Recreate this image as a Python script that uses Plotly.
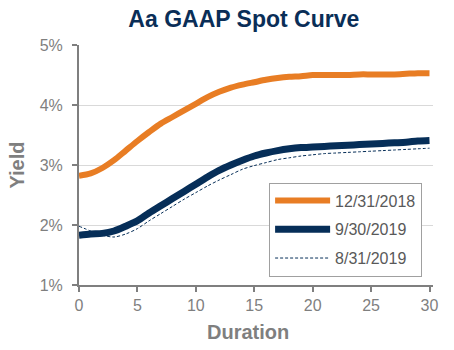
import plotly.graph_objects as go

duration = list(range(0, 31))
dec_2018 = [2.82, 2.86, 2.95, 3.08, 3.24, 3.40, 3.55, 3.69, 3.80, 3.91, 4.02, 4.13, 4.22, 4.29, 4.34, 4.38,
            4.42, 4.45, 4.47, 4.48, 4.50, 4.50, 4.50, 4.50, 4.51, 4.51, 4.51, 4.51, 4.52, 4.53, 4.53]
sep_2019 = [1.83, 1.85, 1.86, 1.90, 1.98, 2.07, 2.20, 2.32, 2.44, 2.56, 2.68, 2.80, 2.91, 3.00, 3.08, 3.15,
            3.20, 3.24, 3.27, 3.29, 3.30, 3.31, 3.32, 3.33, 3.34, 3.35, 3.36, 3.37, 3.38, 3.40, 3.41]
aug_2019 = [1.98, 1.90, 1.83, 1.80, 1.85, 1.94, 2.07, 2.19, 2.31, 2.43, 2.54, 2.65, 2.75, 2.84, 2.93, 2.99,
            3.04, 3.09, 3.12, 3.15, 3.17, 3.19, 3.20, 3.21, 3.22, 3.23, 3.24, 3.25, 3.26, 3.27, 3.28]
names = ["12/31/2018", "9/30/2019", "8/31/2019"]
x_ticks = [0, 5, 10, 15, 20, 25, 30]
y_ticks = [1, 2, 3, 4, 5]
y_labels = ["1%", "2%", "3%", "4%", "5%"]

ORANGE = "#E87D24"
NAVY = "#062E58"
GREY = "#7F7F7F"

fig = go.Figure()
fig.add_trace(go.Scatter(x=duration, y=dec_2018, mode="lines", name=names[0], legendgroup="a",
                         line=dict(color=ORANGE, width=6, shape="spline", smoothing=0.8)))
fig.add_trace(go.Scatter(x=duration, y=sep_2019, mode="lines", name=names[1], legendgroup="b",
                         line=dict(color=NAVY, width=7, shape="spline", smoothing=0.8)))
fig.add_trace(go.Scatter(x=duration, y=aug_2019, mode="lines", name=names[2], legendgroup="c",
                         line=dict(color=NAVY, width=1, dash="3px,2px", shape="spline", smoothing=0.8)))

fig.update_layout(
    width=454, height=350,
    margin=dict(l=79, r=21, t=45, b=65, autoexpand=False),
    paper_bgcolor="white", plot_bgcolor="white",
    font=dict(family="Liberation Sans, Arial, sans-serif", color=GREY),
    title=dict(text="<b>Aa GAAP Spot Curve</b>", x=0.537, xanchor="center", y=0.945, yanchor="middle",
               font=dict(size=23, color="#0A2E57")),
    xaxis=dict(range=[0, 30.3], tickvals=x_ticks, showgrid=False, zeroline=False, automargin=False,
               showline=True, linecolor=GREY, linewidth=2, ticks="outside", ticklen=5,
               tickcolor=GREY, tickwidth=2, tickfont=dict(size=16, color=GREY)),
    yaxis=dict(range=[1, 5], tickvals=y_ticks, ticktext=y_labels, showgrid=True, gridcolor="#D9D9D9",
               gridwidth=1, zeroline=False, showline=True, linecolor=GREY, linewidth=2,
               ticks="outside", ticklen=5, tickcolor=GREY, tickwidth=2, ticklabelstandoff=6,
               tickfont=dict(size=16, color=GREY), automargin=False,
               title=dict(text="<b>Yield</b>", font=dict(size=20, color=GREY), standoff=10)),
    legend=dict(x=0.537, y=0.427, xanchor="left", yanchor="top", bgcolor="white",
                bordercolor="#A0A0A0", borderwidth=1, font=dict(size=16, color="#595959"),
                traceorder="grouped", tracegroupgap=5, itemwidth=55),
    showlegend=True,
    annotations=[dict(text="<b>Duration</b>", xref="paper", yref="paper", x=0.478, y=-0.196,
                      xanchor="center", yanchor="middle", showarrow=False,
                      font=dict(size=20, color=GREY))],
)

fig.write_html("out.html")
